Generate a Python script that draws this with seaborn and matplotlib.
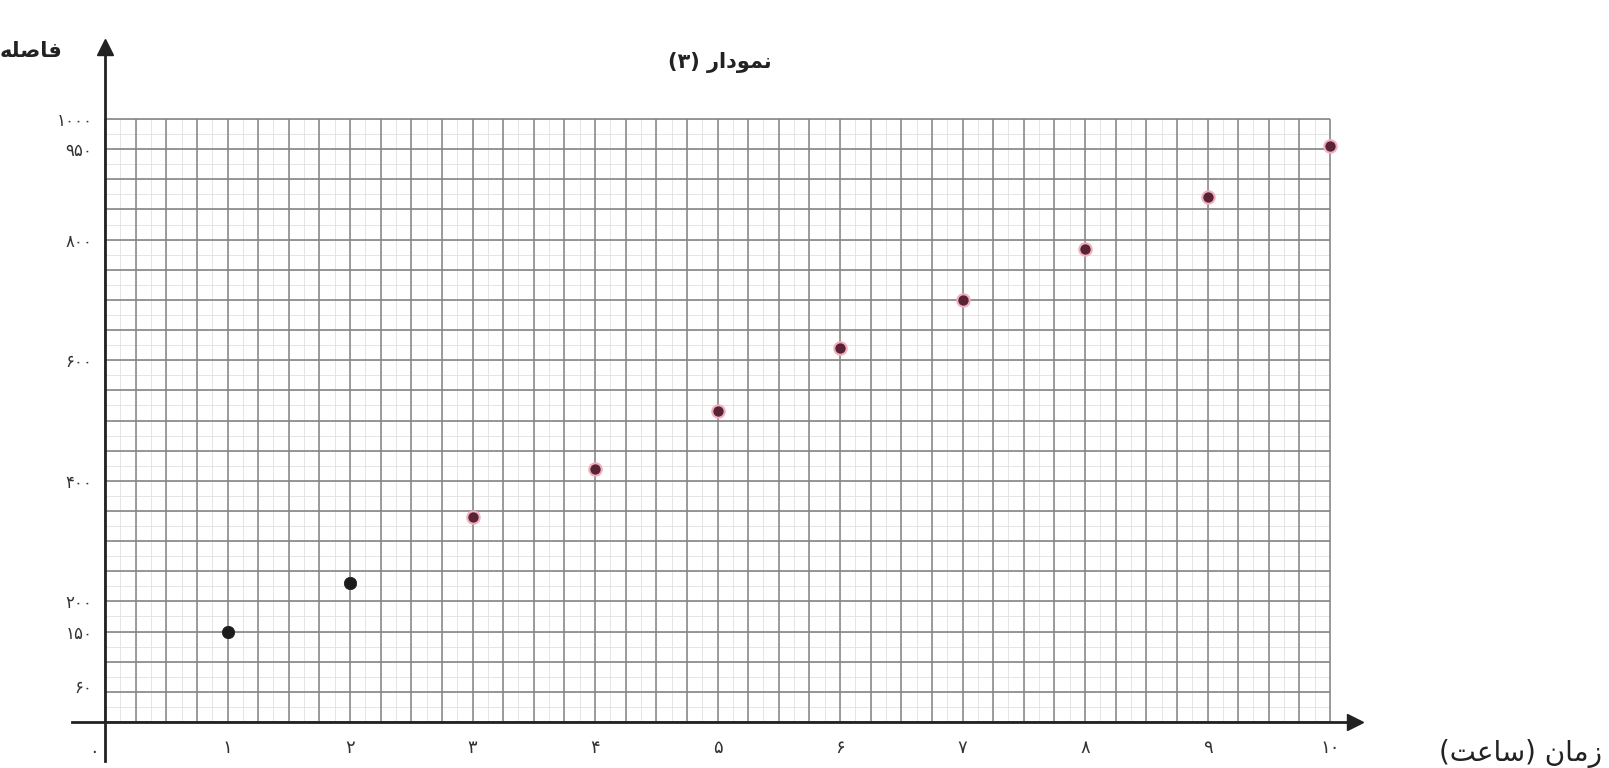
import numpy as np
import pandas as pd
import matplotlib
matplotlib.use("Agg")
import matplotlib.pyplot as plt
import seaborn as sns

# ---- data ----
hours = [1, 2, 3, 4, 5, 6, 7, 8, 9, 10]
distance = [150, 230, 340, 420, 515, 620, 700, 785, 870, 955]
point_group = ["black", "black", "red", "red", "red", "red", "red", "red", "red", "red"]

x_ticks = [1, 2, 3, 4, 5, 6, 7, 8, 9, 10]
x_tick_labels = ["۱", "۲", "۳", "۴", "۵", "۶", "۷", "۸", "۹", "۱۰"]
y_ticks = [60, 150, 200, 400, 600, 800, 950, 1000]
y_tick_labels = ["۶۰", "۱۵۰", "۲۰۰", "۴۰۰", "۶۰۰", "۸۰۰", "۹۵۰", "۱۰۰۰"]

# Persian text (presentation forms, visual order)
title_text = "(۳) " + "\uFEAD\uFE8D\uFEA9\uFEEE\uFEE4\uFEE7"          # نمودار (۳)
xlabel_text = "(" + "\uFE96\uFECB\uFE8E\uFEB3" + ") " + "\uFEE5\uFE8E\uFEE3\uFEAF"  # زمان (ساعت)
ylabel_text = "\uFEEA\uFEE0\uFEBB\uFE8E\uFED3"                       # فاصله
zero_label = "۰"

df = pd.DataFrame({"hours": hours, "distance": distance, "group": point_group})

sns.set_theme(style="white")
plt.rcParams["font.family"] = ["DejaVu Sans"]

W, H = 1609, 768
fig = plt.figure(figsize=(W / 100, H / 100), dpi=100)
ax = fig.add_axes([0, 0, 1, 1])

# pixel mapping: x=0 at px 105, x=10 at px 1330 ; y=0 at px 722, y=1000 at px 119
px_per_x = (1330 - 105) / 10.0
px_per_y = (722 - 119) / 1000.0
ax.set_xlim(-105 / px_per_x, (W - 105) / px_per_x)
ax.set_ylim(-(H - 722) / px_per_y, 722 / px_per_y)

# graph paper grid
fine_x = np.arange(0, 10.001, 0.125)
fine_y = np.arange(0, 1000.1, 25)
ax.vlines(fine_x, 0, 1000, color="#e0e0e0", lw=0.6, zorder=1)
ax.hlines(fine_y, 0, 10, color="#e0e0e0", lw=0.6, zorder=1)
major_x = np.arange(0, 10.001, 0.25)
major_y = np.arange(0, 1000.1, 50)
ax.vlines(major_x, 0, 1000, color="#8c8c8c", lw=1.2, zorder=2)
ax.hlines(major_y, 0, 10, color="#858585", lw=1.2, zorder=2)

# axes as spines through the origin
for s in ["top", "right"]:
    ax.spines[s].set_visible(False)
ax.spines["left"].set_position(("data", 0))
ax.spines["bottom"].set_position(("data", 0))
ax.spines["left"].set_bounds(-65, 1120)
ax.spines["bottom"].set_bounds(-0.27, 10.2)
for s in ["left", "bottom"]:
    ax.spines[s].set_color("#222222")
    ax.spines[s].set_linewidth(2.0)
    ax.spines[s].set_zorder(4)

ax.plot(0, 1120, marker="^", ms=11, color="#222222", clip_on=False, zorder=5)
ax.plot(10.2, 0, marker=">", ms=11, color="#222222", clip_on=False, zorder=5)

ax.set_xticks(x_ticks)
ax.set_xticklabels(x_tick_labels)
ax.set_yticks(y_ticks)
ax.set_yticklabels(y_tick_labels)
ax.tick_params(axis="x", direction="out", length=6, width=1.2, pad=6,
               labelsize=13, colors="#333333")
ax.tick_params(axis="y", direction="out", length=5, width=1.2, pad=4,
               labelsize=12, colors="#333333")

# points
black = df[df["group"] == "black"]
red = df[df["group"] == "red"]
sns.scatterplot(data=black, x="hours", y="distance", color="#1c1c1c",
                s=80, edgecolor="#1c1c1c", linewidth=0.5, ax=ax, zorder=6, legend=False)
sns.scatterplot(data=red, x="hours", y="distance", color="#5a2236",
                s=80, edgecolor="#efb0bb", linewidth=1.5, ax=ax, zorder=6, legend=False)

ax.set_xlabel("")
ax.set_ylabel("")

# texts
ax.text(5.02, 1093, title_text, ha="center", va="center", fontsize=15,
        fontweight="bold", color="#222222")
ax.text((1602 - 105) / px_per_x, -52, xlabel_text, ha="right", va="center",
        fontsize=20, color="#222222")
ax.text((62 - 105) / px_per_x, 1113, ylabel_text, ha="right", va="center",
        fontsize=15, fontweight="bold", color="#222222")
ax.text((94 - 105) / px_per_x, -50, zero_label, ha="center", va="center",
        fontsize=13, color="#333333")

fig.savefig("out.png", dpi=100, facecolor="white")
